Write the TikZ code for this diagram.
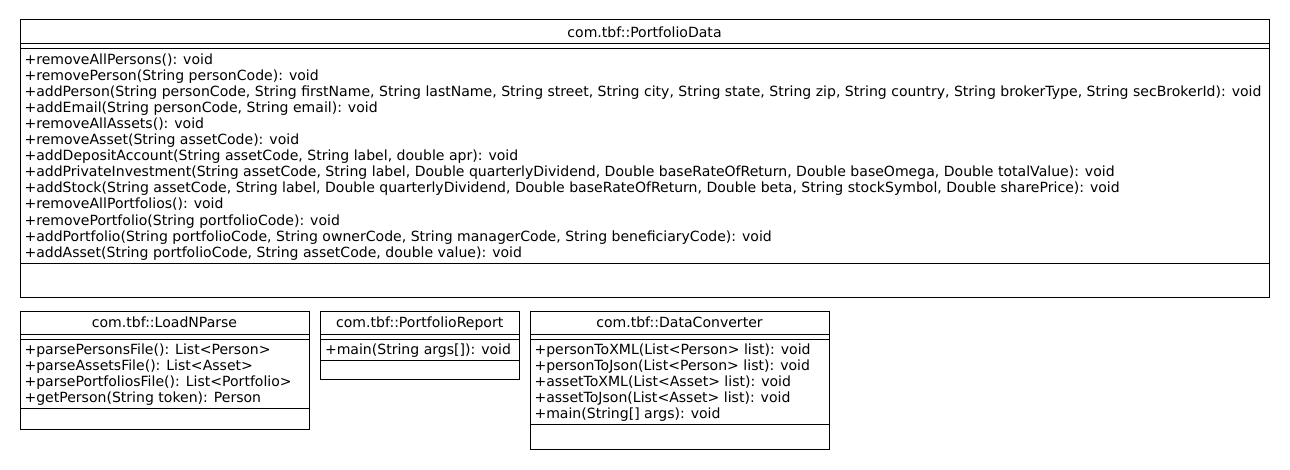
\documentclass[tikz,border=0pt]{standalone}
\usepackage{fontspec}
\setmainfont{DejaVu Sans}
\begin{document}
\begin{tikzpicture}[x=1pt,y=-1pt,line width=1pt,
  box/.style={draw=black,line width=1pt},
  sep/.style={draw=black,line width=1pt},
  mtext/.style={anchor=mid west,inner sep=0pt,font=\fontsize{14.05}{16}\selectfont},
  ttext/.style={anchor=mid,inner sep=0pt,font=\fontsize{14.05}{16}\selectfont}]
\useasboundingbox[fill=white] (0,0) rectangle (1290,470);
% ---- PortfolioData
\draw[box] (20,20) rectangle (1269,298);
\draw[sep] (20,44) -- (1269,44);
\draw[sep] (20,48.5) -- (1269,48.5);
\draw[sep] (20,264) -- (1269,264);
\node[ttext] (pdT) at (644.5,34.5) {com.tbf::PortfolioData};
\node[mtext] (pd0) at (24,{61.5+16.08*0}) {+removeAllPersons(): void};
\node[mtext] (pd1) at (24,{61.5+16.08*1}) {+removePerson(String personCode): void};
\node[mtext] (pd2) at (24,{61.5+16.08*2}) {+addPerson(String personCode, String firstName, String lastName, String street, String city, String state, String zip, String country, String brokerType, String secBrokerId): void};
\node[mtext] (pd3) at (24,{61.5+16.08*3}) {+addEmail(String personCode, String email): void};
\node[mtext] (pd4) at (24,{61.5+16.08*4}) {+removeAllAssets(): void};
\node[mtext] (pd5) at (24,{61.5+16.08*5}) {+removeAsset(String assetCode): void};
\node[mtext] (pd6) at (24,{61.5+16.08*6}) {+addDepositAccount(String assetCode, String label, double apr): void};
\node[mtext] (pd7) at (24,{61.5+16.08*7}) {+addPrivateInvestment(String assetCode, String label, Double quarterlyDividend, Double baseRateOfReturn, Double baseOmega, Double totalValue): void};
\node[mtext] (pd8) at (24,{61.5+16.08*8}) {+addStock(String assetCode, String label, Double quarterlyDividend, Double baseRateOfReturn, Double beta, String stockSymbol, Double sharePrice): void};
\node[mtext] (pd9) at (24,{61.5+16.08*9}) {+removeAllPortfolios(): void};
\node[mtext] (pd10) at (24,{61.5+16.08*10}) {+removePortfolio(String portfolioCode): void};
\node[mtext] (pd11) at (24,{61.5+16.08*11}) {+addPortfolio(String portfolioCode, String ownerCode, String managerCode, String beneficiaryCode): void};
\node[mtext] (pd12) at (24,{61.5+16.08*12}) {+addAsset(String portfolioCode, String assetCode, double value): void};
% ---- LoadNParse
\draw[box] (20,311) rectangle (309,429);
\draw[sep] (20,334) -- (309,334);
\draw[sep] (20,339) -- (309,339);
\draw[sep] (20,408) -- (309,408);
\node[ttext] (lpT) at (164.5,325) {com.tbf::LoadNParse};
\node[mtext] (lp0) at (24,{352+16.08*0}) {+parsePersonsFile(): List<Person>};
\node[mtext] (lp1) at (24,{352+16.08*1}) {+parseAssetsFile(): List<Asset>};
\node[mtext] (lp2) at (24,{352+16.08*2}) {+parsePortfoliosFile(): List<Portfolio>};
\node[mtext] (lp3) at (24,{352+16.08*3}) {+getPerson(String token): Person};
% ---- PortfolioReport
\draw[box] (320.5,311) rectangle (519,379);
\draw[sep] (320.5,334) -- (519,334);
\draw[sep] (320.5,339) -- (519,339);
\draw[sep] (320.5,360) -- (519,360);
\node[ttext] (prT) at (419.75,325) {com.tbf::PortfolioReport};
\node[mtext] (pr0) at (324.5,351.5) {+main(String args[]): void};
% ---- DataConverter
\draw[box] (530,311) rectangle (829,449);
\draw[sep] (530,334) -- (829,334);
\draw[sep] (530,339) -- (829,339);
\draw[sep] (530,424) -- (829,424);
\node[ttext] (dcT) at (679.5,325) {com.tbf::DataConverter};
\node[mtext] (dc0) at (534,{351.5+16.08*0}) {+personToXML(List<Person> list): void};
\node[mtext] (dc1) at (534,{351.5+16.08*1}) {+personToJson(List<Person> list): void};
\node[mtext] (dc2) at (534,{351.5+16.08*2}) {+assetToXML(List<Asset> list): void};
\node[mtext] (dc3) at (534,{351.5+16.08*3}) {+assetToJson(List<Asset> list): void};
\node[mtext] (dc4) at (534,{351.5+16.08*4}) {+main(String[] args): void};
\end{tikzpicture}
\end{document}
